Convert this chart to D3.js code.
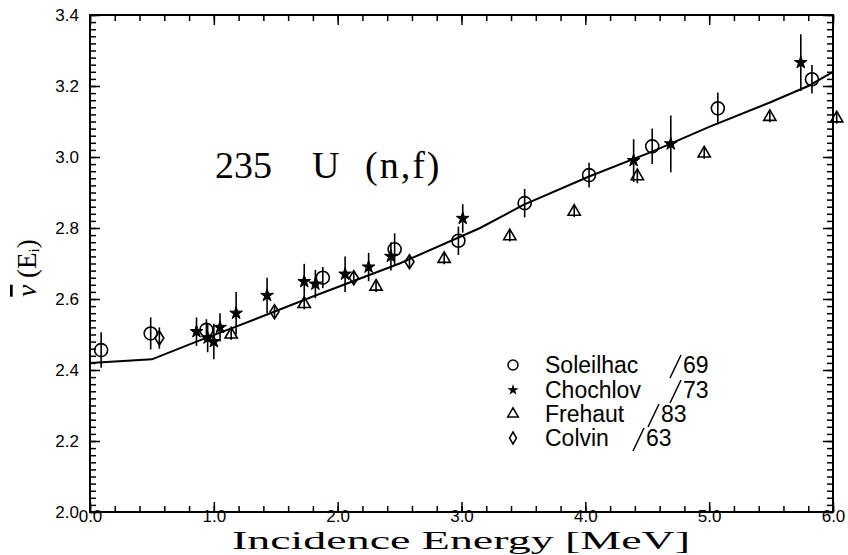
<!DOCTYPE html>
<html>
<head>
<meta charset="utf-8">
<script src="https://cdn.jsdelivr.net/npm/d3@7"></script>
<style>
  body { margin: 0; background: #fff; }
  .tick text { font-family: "Liberation Sans", sans-serif; font-size: 17px; fill: #000; }
  .tick line { stroke: #000; stroke-width: 1.5; }
</style>
</head>
<body>
<div class="chart"></div>
<script>

const svgWidth = 848;
const svgHeight = 555;

const margin = {
    top: 15,
    right: 15,
    bottom: 43,
    left: 90
};

const width = svgWidth - margin.left - margin.right;
const height = svgHeight - margin.top - margin.bottom;

// evaluated curve
const curveE  = [0.0, 0.5, 0.86, 1.2, 1.8, 2.5, 3.15, 3.5, 4.03, 4.54, 5.0, 5.5, 5.8, 6.0];
const curveNu = [2.42, 2.43, 2.48, 2.525, 2.607, 2.70, 2.80, 2.865, 2.945, 3.015, 3.085, 3.155, 3.20, 3.24];

// measurements: [energy, nu-bar, error]
const soleilhac = [
    [0.09, 2.456, 0.05], [0.49, 2.503, 0.045], [0.94, 2.513, 0.03], [1.88, 2.66, 0.03],
    [2.46, 2.74, 0.045], [2.975, 2.764, 0.04], [3.51, 2.87, 0.04], [4.03, 2.949, 0.035],
    [4.54, 3.03, 0.05], [5.07, 3.137, 0.045], [5.83, 3.219, 0.04]
];
const chochlov = [
    [0.86, 2.508, 0.04], [0.95, 2.49, 0.04], [1.0, 2.48, 0.05], [1.05, 2.52, 0.04],
    [1.18, 2.56, 0.06], [1.43, 2.61, 0.05], [1.73, 2.649, 0.05], [1.82, 2.642, 0.04],
    [2.06, 2.67, 0.05], [2.25, 2.69, 0.04], [2.43, 2.72, 0.04], [3.01, 2.827, 0.04],
    [4.39, 2.99, 0.06], [4.69, 3.037, 0.08], [5.74, 3.266, 0.08]
];
const frehaut = [
    [1.14, 2.50, 0.015], [1.73, 2.586, 0.015], [2.31, 2.635, 0.015], [2.86, 2.713, 0.015],
    [3.39, 2.777, 0.015], [3.91, 2.846, 0.015], [4.42, 2.946, 0.02], [4.96, 3.01, 0.015],
    [5.49, 3.113, 0.015], [6.03, 3.109, 0.015]
];
const colvin = [
    [0.56, 2.49, 0.03], [1.49, 2.564, 0.015], [2.13, 2.66, 0.02], [2.58, 2.705, 0.015]
];

const xTicks = [0, 1, 2, 3, 4, 5, 6];
const yTicks = [2.0, 2.2, 2.4, 2.6, 2.8, 3.0, 3.2, 3.4];

const legendNames = ["Soleilhac", "Chochlov", "Frehaut", "Colvin"];
const legendYears = ["69", "73", "83", "63"];

const svg = d3
    .select(".chart")
    .append("svg")
    .attr("width", svgWidth)
    .attr("height", svgHeight);

const chartGroup = svg.append("g")
    .attr("transform", `translate(${margin.left}, ${margin.top})`);

const xLinearScale = d3.scaleLinear().domain([0, 6]).range([0, width]);
const yLinearScale = d3.scaleLinear().domain([2.0, 3.4]).range([height, 0]);

const xMinor = d3.range(0, 6.001, 0.2);
const yMinor = d3.range(2.0, 3.401, 0.02);

// axes, ticks pointing inward
function addAxis(axis, transform) {
    const g = chartGroup.append("g").attr("transform", transform).call(axis);
    g.select(".domain").remove();
    return g;
}

addAxis(d3.axisBottom(xLinearScale).tickValues(xMinor).tickSize(-6).tickFormat(""), `translate(0, ${height})`);
addAxis(d3.axisBottom(xLinearScale).tickValues(xTicks).tickSize(-10).tickPadding(-2).tickFormat(d3.format(".1f")), `translate(0, ${height})`);
addAxis(d3.axisTop(xLinearScale).tickValues(xMinor).tickSize(-6).tickFormat(""), "translate(0, 0)");
addAxis(d3.axisTop(xLinearScale).tickValues(xTicks).tickSize(-10).tickFormat(""), "translate(0, 0)");
addAxis(d3.axisLeft(yLinearScale).tickValues(yMinor).tickSize(-6).tickFormat(""), "translate(0, 0)");
addAxis(d3.axisLeft(yLinearScale).tickValues(yTicks).tickSize(-10).tickPadding(11).tickFormat(d3.format(".1f")), "translate(0, 0)");
addAxis(d3.axisRight(yLinearScale).tickValues(yMinor).tickSize(-6).tickFormat(""), `translate(${width}, 0)`);
addAxis(d3.axisRight(yLinearScale).tickValues(yTicks).tickSize(-10).tickFormat(""), `translate(${width}, 0)`);

chartGroup.append("rect")
    .attr("width", width)
    .attr("height", height)
    .attr("fill", "none")
    .attr("stroke", "#000")
    .attr("stroke-width", 2);

// curve
const line = d3.line()
    .x((d, i) => xLinearScale(curveE[i]))
    .y(d => yLinearScale(d));

chartGroup.append("path")
    .datum(curveNu)
    .attr("d", line)
    .attr("fill", "none")
    .attr("stroke", "#000")
    .attr("stroke-width", 2);

// marker shapes
const starPath = d3.symbol().type(d3.symbolStar).size(50)();
const trianglePath = d3.symbol().type(d3.symbolTriangle).size(65)();
const diamondPath = "M0,-7L4.5,0L0,7L-4.5,0Z";

function drawSeries(data, kind) {
    const g = chartGroup.append("g");
    g.selectAll("line.err")
        .data(data)
        .enter()
        .append("line")
        .attr("x1", d => xLinearScale(d[0]))
        .attr("x2", d => xLinearScale(d[0]))
        .attr("y1", d => yLinearScale(d[1] - d[2]))
        .attr("y2", d => yLinearScale(d[1] + d[2]))
        .attr("stroke", "#000")
        .attr("stroke-width", 1.6);

    const marks = g.selectAll(".mark")
        .data(data)
        .enter();

    if (kind === "circle") {
        marks.append("circle")
            .attr("cx", d => xLinearScale(d[0]))
            .attr("cy", d => yLinearScale(d[1]))
            .attr("r", 6.5)
            .attr("fill", "none")
            .attr("stroke", "#000")
            .attr("stroke-width", 1.6);
    } else {
        const p = kind === "star" ? starPath : kind === "triangle" ? trianglePath : diamondPath;
        marks.append("path")
            .attr("d", p)
            .attr("transform", d => `translate(${xLinearScale(d[0])}, ${yLinearScale(d[1])})`)
            .attr("fill", kind === "star" ? "#000" : "none")
            .attr("stroke", "#000")
            .attr("stroke-width", kind === "star" ? 1 : 1.6);
    }
}

drawSeries(colvin, "diamond");
drawSeries(frehaut, "triangle");
drawSeries(soleilhac, "circle");
drawSeries(chochlov, "star");

// title inside plot
const titleGroup = svg.append("g")
    .style("font-family", "'Liberation Serif', serif")
    .style("font-size", "38px");
titleGroup.append("text").attr("x", 215).attr("y", 178).text("235");
titleGroup.append("text").attr("x", 312).attr("y", 178).text("U");
titleGroup.append("text").attr("x", 365).attr("y", 178).attr("letter-spacing", 2).text("(n,f)");

// legend
const legendX = 513;
const legendRows = [365, 390, 414, 438];
const slashX = [670, 670, 648, 633];
const legendGroup = svg.append("g");

legendGroup.append("circle")
    .attr("cx", legendX).attr("cy", legendRows[0]).attr("r", 5)
    .attr("fill", "none").attr("stroke", "#000").attr("stroke-width", 1.5);
legendGroup.append("path")
    .attr("d", d3.symbol().type(d3.symbolStar).size(40)())
    .attr("transform", `translate(${legendX}, ${legendRows[1]})`)
    .attr("fill", "#000");
legendGroup.append("path")
    .attr("d", d3.symbol().type(d3.symbolTriangle).size(50)())
    .attr("transform", `translate(${legendX}, ${legendRows[2]})`)
    .attr("fill", "none").attr("stroke", "#000").attr("stroke-width", 1.5);
legendGroup.append("path")
    .attr("d", "M0,-6L3.5,0L0,6L-3.5,0Z")
    .attr("transform", `translate(${legendX}, ${legendRows[3]})`)
    .attr("fill", "none").attr("stroke", "#000").attr("stroke-width", 1.5);

legendNames.forEach((name, i) => {
    const base = legendRows[i] + 8;
    legendGroup.append("text")
        .attr("x", 545)
        .attr("y", base)
        .style("font-family", "'Liberation Sans', sans-serif")
        .style("font-size", "23px")
        .text(name);
    legendGroup.append("line")
        .attr("x1", slashX[i]).attr("y1", base + 5)
        .attr("x2", slashX[i] + 11).attr("y2", base - 18)
        .attr("stroke", "#000").attr("stroke-width", 1.5);
    legendGroup.append("text")
        .attr("x", slashX[i] + 13)
        .attr("y", base)
        .style("font-family", "'Liberation Sans', sans-serif")
        .style("font-size", "23px")
        .text(legendYears[i]);
});

// axis titles
svg.append("text")
    .attr("x", 232)
    .attr("y", 549)
    .attr("textLength", 458)
    .attr("lengthAdjust", "spacingAndGlyphs")
    .style("font-family", "'Liberation Serif', serif")
    .style("font-size", "26px")
    .text("Incidence Energy [MeV]");

const yTitle = svg.append("text")
    .attr("transform", "translate(36, 268) rotate(-90)")
    .attr("text-anchor", "middle")
    .style("font-family", "'Liberation Serif', serif")
    .style("font-size", "27px");
yTitle.append("tspan").style("font-style", "italic").attr("text-decoration", "overline").text("\u03bd");
yTitle.append("tspan").text("  (E");
yTitle.append("tspan").attr("font-size", "15px").attr("dy", 3).text("i");
yTitle.append("tspan").attr("dy", -3).text(")");

</script>
</body>
</html>
